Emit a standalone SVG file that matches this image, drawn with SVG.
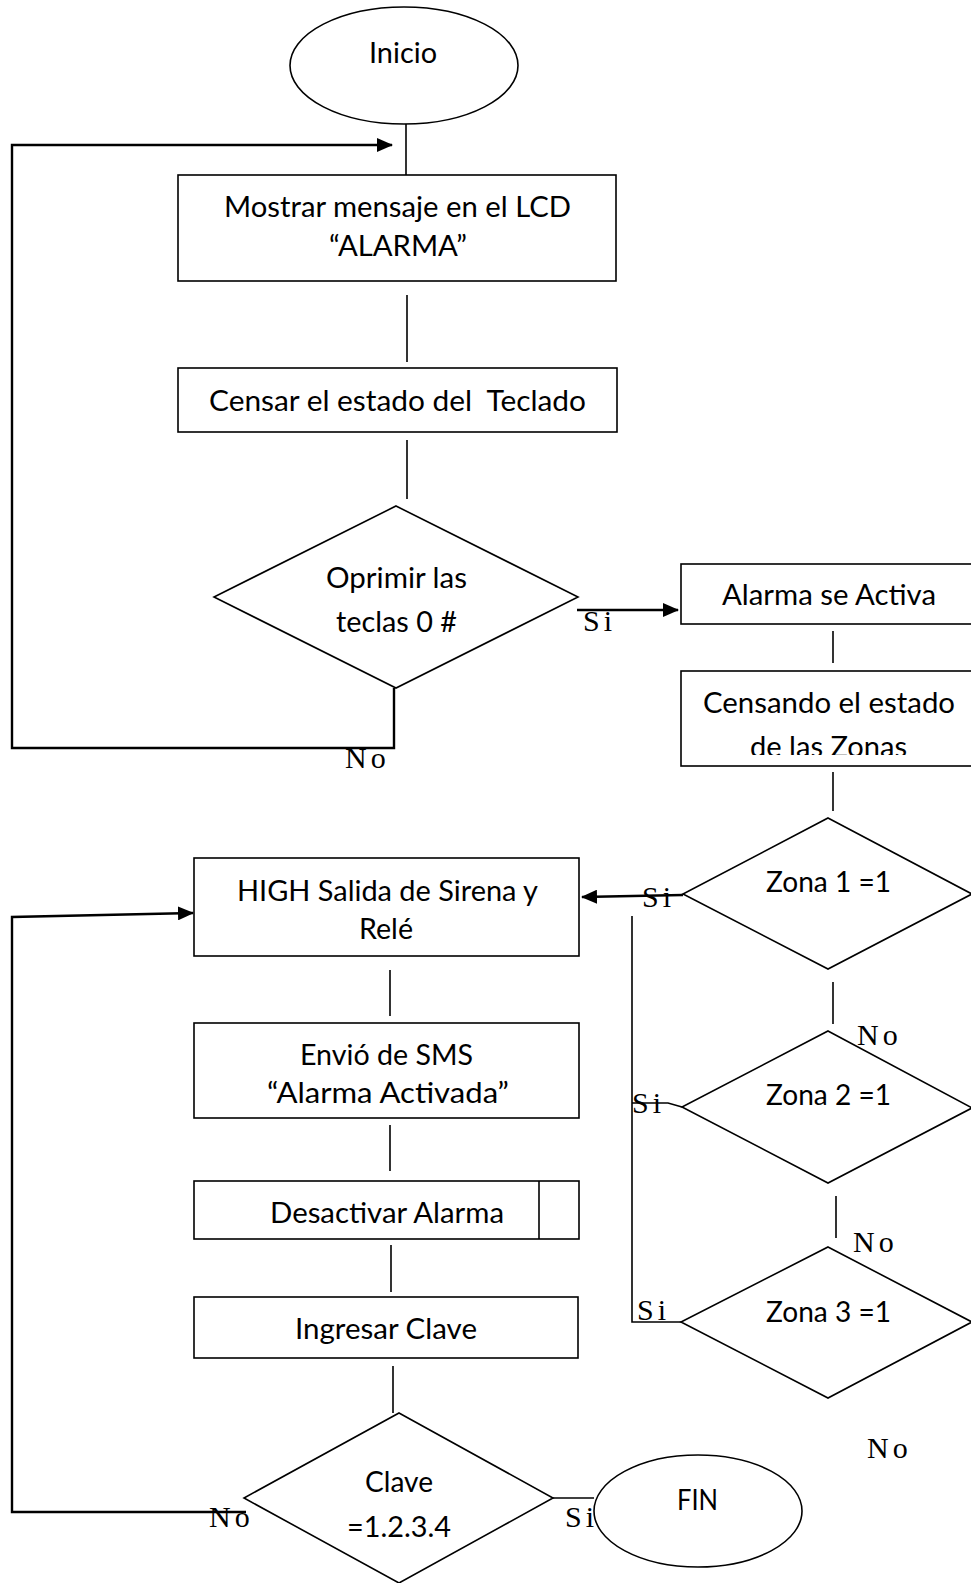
<svg xmlns="http://www.w3.org/2000/svg" width="971" height="1583" viewBox="0 0 971 1583">
<style>
.shape{fill:#fff;stroke:#000;stroke-width:1.6}
.ln{fill:none;stroke:#000;stroke-width:1.6}
.fb{fill:none;stroke:#000;stroke-width:2.4}
.t{font-family:Lato,"Open Sans",sans-serif;font-size:29px;fill:#000;text-anchor:middle}
.s{font-family:"Liberation Serif","Times New Roman",serif;font-size:30px;fill:#000;letter-spacing:4px}
</style>
<defs>
<marker id="ah" viewBox="0 0 16 14" refX="15" refY="7" markerWidth="16" markerHeight="14" markerUnits="userSpaceOnUse" orient="auto">
<path d="M0,0 L16,7 L0,14 Z" fill="#000"/>
</marker>
<clipPath id="clipZ"><rect x="681" y="671" width="300" height="84"/></clipPath>
</defs>
<rect width="971" height="1583" fill="#fff"/>

<g id="connectors">
<line class="ln" x1="406" y1="124" x2="406" y2="175"/>
<line class="ln" x1="407" y1="295" x2="407" y2="362"/>
<line class="ln" x1="407" y1="440" x2="407" y2="499"/>
<polyline class="fb" points="394,688 394,748 12,748 12,145 392,145" marker-end="url(#ah)"/>
<line class="fb" x1="577" y1="610" x2="678" y2="610" marker-end="url(#ah)"/>
<line class="ln" x1="833" y1="631" x2="833" y2="663"/>
<line class="ln" x1="833" y1="772" x2="833" y2="811"/>
<line class="fb" x1="683" y1="895" x2="582" y2="897" marker-end="url(#ah)"/>
<polyline class="ln" points="632,916 632,1322 681,1322"/>
<polyline class="ln" points="632,1103 668,1103 682,1107"/>
<line class="ln" x1="833" y1="982" x2="833" y2="1024"/>
<line class="ln" x1="836" y1="1196" x2="836" y2="1238"/>
<polyline class="fb" points="246,1512 12,1512 12,917 193,913" marker-end="url(#ah)"/>
<line class="ln" x1="390" y1="970" x2="390" y2="1016"/>
<line class="ln" x1="390" y1="1125" x2="390" y2="1171"/>
<line class="ln" x1="391" y1="1245" x2="391" y2="1292"/>
<line class="ln" x1="393" y1="1366" x2="393" y2="1413"/>
<line class="ln" x1="553" y1="1498" x2="594" y2="1498"/>
</g>

<g id="inicio">
<ellipse class="shape" cx="404" cy="65.5" rx="114" ry="58.5"/>
<text class="t" x="403" y="63" textLength="68" lengthAdjust="spacingAndGlyphs">Inicio</text>
</g>

<g id="mostrar">
<rect class="shape" x="178" y="175" width="438" height="106"/>
<text class="t" x="397.5" y="217" textLength="347" lengthAdjust="spacingAndGlyphs">Mostrar mensaje en el LCD</text>
<text class="t" x="398" y="256" textLength="138" lengthAdjust="spacingAndGlyphs">“ALARMA”</text>
</g>

<g id="censar">
<rect class="shape" x="178" y="368" width="439" height="64"/>
<text class="t" x="397.5" y="411" textLength="377" lengthAdjust="spacingAndGlyphs" style="white-space:pre">Censar el estado del  Teclado</text>
</g>

<g id="oprimir">
<polygon class="shape" points="396,506 578,597 396,688 214,597"/>
<text class="t" x="396.5" y="588" textLength="141" lengthAdjust="spacingAndGlyphs">Oprimir las</text>
<text class="t" x="396.5" y="632" textLength="121" lengthAdjust="spacingAndGlyphs">teclas 0 #</text>
</g>

<g id="alarma-activa">
<rect class="shape" x="681" y="564" width="304" height="60"/>
<text class="t" x="829" y="605" textLength="214" lengthAdjust="spacingAndGlyphs">Alarma se Activa</text>
</g>

<g id="censando">
<rect class="shape" x="681" y="671" width="304" height="95"/>
<text class="t" x="829" y="713" textLength="252" lengthAdjust="spacingAndGlyphs">Censando el estado</text>
<text class="t" x="828.5" y="757" textLength="157" lengthAdjust="spacingAndGlyphs" clip-path="url(#clipZ)">de las Zonas</text>
</g>

<g id="zona1">
<polygon class="shape" points="828,818 972,894 828,969 683,894"/>
<text class="t" x="828.5" y="892" textLength="125" lengthAdjust="spacingAndGlyphs">Zona 1 =1</text>
</g>

<g id="zona2">
<polygon class="shape" points="828,1031 972,1108 828,1183 682,1107"/>
<text class="t" x="828.5" y="1105" textLength="125" lengthAdjust="spacingAndGlyphs">Zona 2 =1</text>
</g>

<g id="zona3">
<polygon class="shape" points="828,1247 972,1322 828,1398 681,1322"/>
<text class="t" x="828.5" y="1322" textLength="125" lengthAdjust="spacingAndGlyphs">Zona 3 =1</text>
</g>

<g id="high">
<rect class="shape" x="194" y="858" width="385" height="98"/>
<text class="t" x="387.5" y="901" textLength="301" lengthAdjust="spacingAndGlyphs">HIGH Salida de Sirena y</text>
<text class="t" x="386" y="939" textLength="54" lengthAdjust="spacingAndGlyphs">Relé</text>
</g>

<g id="envio">
<rect class="shape" x="194" y="1023" width="385" height="95"/>
<text class="t" x="386.5" y="1065" textLength="173" lengthAdjust="spacingAndGlyphs">Envió de SMS</text>
<text class="t" x="388" y="1103" textLength="242" lengthAdjust="spacingAndGlyphs">“Alarma Activada”</text>
</g>

<g id="desactivar">
<rect class="shape" x="194" y="1181" width="385" height="58"/>
<line class="ln" x1="539" y1="1181" x2="539" y2="1239"/>
<text class="t" x="387" y="1223" textLength="234" lengthAdjust="spacingAndGlyphs">Desactivar Alarma</text>
</g>

<g id="ingresar">
<rect class="shape" x="194" y="1297" width="384" height="61"/>
<text class="t" x="386" y="1339" textLength="182" lengthAdjust="spacingAndGlyphs">Ingresar Clave</text>
</g>

<g id="clave">
<polygon class="shape" points="399,1413 553,1498 399,1583 244,1498"/>
<text class="t" x="399" y="1492" textLength="68" lengthAdjust="spacingAndGlyphs">Clave</text>
<text class="t" x="399" y="1537" textLength="104" lengthAdjust="spacingAndGlyphs">=1.2.3.4</text>
</g>

<g id="fin">
<ellipse class="shape" cx="698" cy="1511" rx="104" ry="56"/>
<text class="t" x="697.5" y="1510" textLength="41" lengthAdjust="spacingAndGlyphs">FIN</text>
</g>

<g id="labels">
<text class="s" x="583" y="631">Si</text>
<text class="s" x="345" y="768">No</text>
<text class="s" x="642" y="907">Si</text>
<text class="s" x="857" y="1045">No</text>
<text class="s" x="632" y="1113">Si</text>
<text class="s" x="853" y="1252">No</text>
<text class="s" x="637" y="1320">Si</text>
<text class="s" x="867" y="1458">No</text>
<text class="s" x="209" y="1527">No</text>
<text class="s" x="565" y="1527">Si</text>
</g>
</svg>
